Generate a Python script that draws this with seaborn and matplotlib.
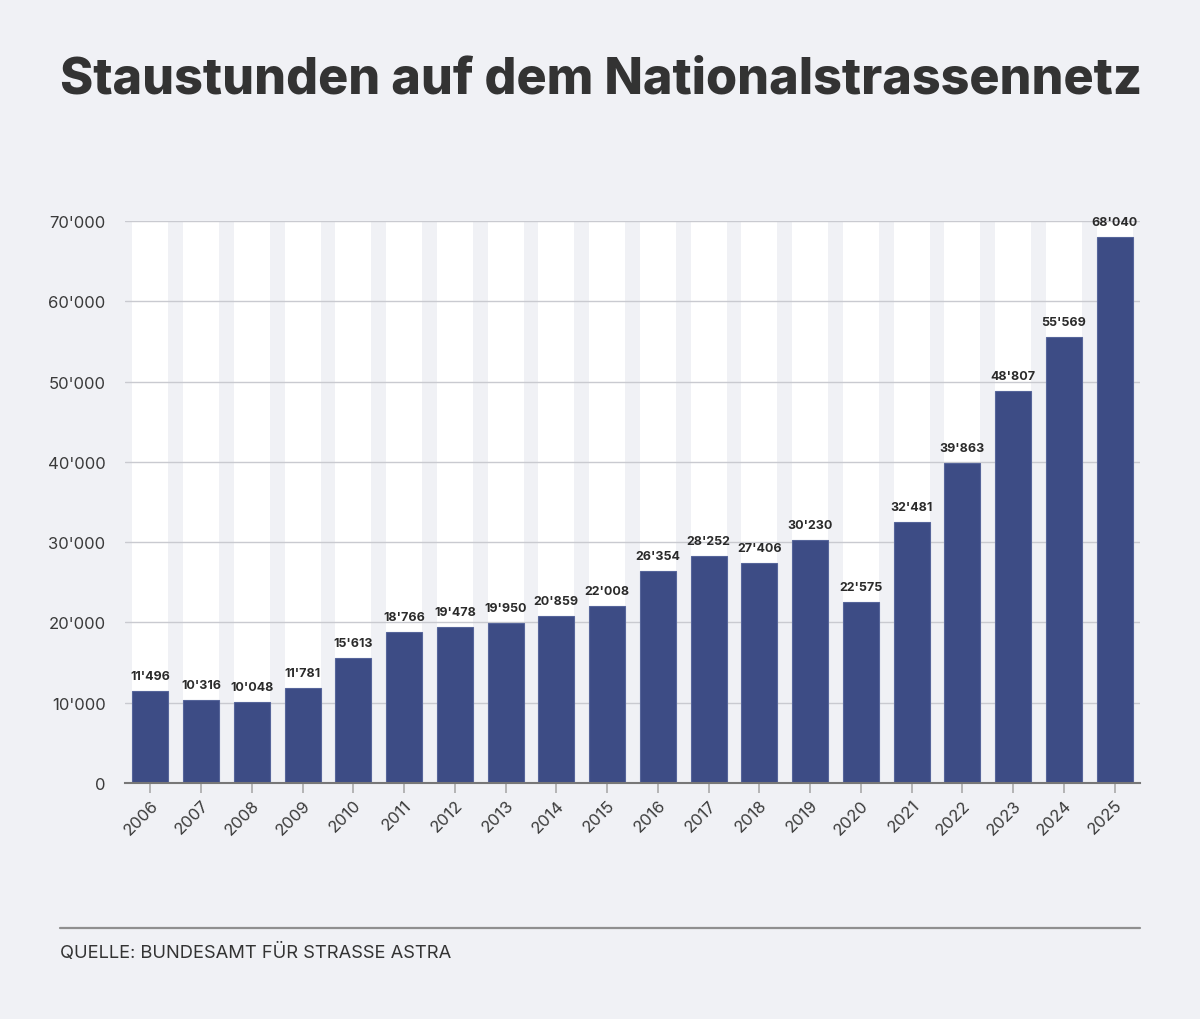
import matplotlib
matplotlib.use("Agg")
import matplotlib.pyplot as plt
import seaborn as sns
import pandas as pd

years = [str(y) for y in range(2006, 2026)]
hours = [11496, 10316, 10048, 11781, 15613, 18766, 19478, 19950, 20859, 22008,
         26354, 28252, 27406, 30230, 22575, 32481, 39863, 48807, 55569, 68040]
y_ticks = [0, 10000, 20000, 30000, 40000, 50000, 60000, 70000]
y_max = 70000

title = "Staustunden auf dem Nationalstrassennetz"
source = "QUELLE: BUNDESAMT FÜR STRASSE ASTRA"

BG = "#f0f1f5"
BAR = "#3d4c85"

sns.set_theme(style="white")
plt.rcParams["font.family"] = ["Inter", "DejaVu Sans"]

df = pd.DataFrame({"year": years, "hours": hours, "band": [y_max] * len(years)})

fig = plt.figure(figsize=(12, 10.2), dpi=100, facecolor=BG)
ax = fig.add_axes([125 / 1200, 1 - 784 / 1020, (1140 - 125) / 1200, (784 - 222) / 1020])
ax.set_facecolor(BG)

sns.barplot(data=df, x="year", y="band", color="white", saturation=1, width=0.71,
            ax=ax, zorder=0.1, linewidth=0)
sns.barplot(data=df, x="year", y="hours", color=BAR, saturation=1, width=0.71,
            ax=ax, zorder=2, edgecolor="#56659a", linewidth=0.8)

ax.set_axisbelow(True)
ax.yaxis.grid(True, color="#c9cad0", linewidth=1.0)
ax.xaxis.grid(False)
ax.set_xlim(-0.5, len(years) - 0.5)
ax.set_ylim(0, y_max)
ax.set_yticks(y_ticks)
ax.set_yticklabels([f"{v:,}".replace(",", "'") for v in y_ticks])
ax.set_xlabel("")
ax.set_ylabel("")

for s in ["top", "right", "left"]:
    ax.spines[s].set_visible(False)
ax.spines["bottom"].set_color("#777777")
ax.spines["bottom"].set_linewidth(1.5)

ax.tick_params(axis="y", length=0, pad=14, labelsize=12, labelcolor="#3a3a3a")
ax.tick_params(axis="x", length=7, width=1.2, color="#aaaaaa", pad=3,
               labelsize=12, labelcolor="#3a3a3a", bottom=True)
for lbl in ax.get_xticklabels():
    lbl.set_rotation(45)
    lbl.set_ha("right")
    lbl.set_rotation_mode("anchor")

bars = ax.containers[1]
for rect, v in zip(bars, hours):
    ax.annotate(f"{v:,}".replace(",", "'"),
                (rect.get_x() + rect.get_width() / 2, rect.get_height()),
                xytext=(0, 6.5), textcoords="offset points",
                ha="center", va="bottom", fontsize=9, fontweight="bold",
                color="#2b2b2b", zorder=5)

fig.text(60 / 1200, 1 - 80 / 1020, title, fontsize=36.2, fontweight="heavy",
         color="#333333", ha="left", va="center")

fig.add_artist(plt.Line2D([60 / 1200, 1140 / 1200], [1 - 929 / 1020, 1 - 929 / 1020],
                          color="#8f8f8f", linewidth=1.6))
fig.text(60 / 1200, 1 - 953 / 1020, source, fontsize=13.2, color="#333333",
         ha="left", va="center")

fig.savefig("out.png", dpi=100, facecolor=BG)
